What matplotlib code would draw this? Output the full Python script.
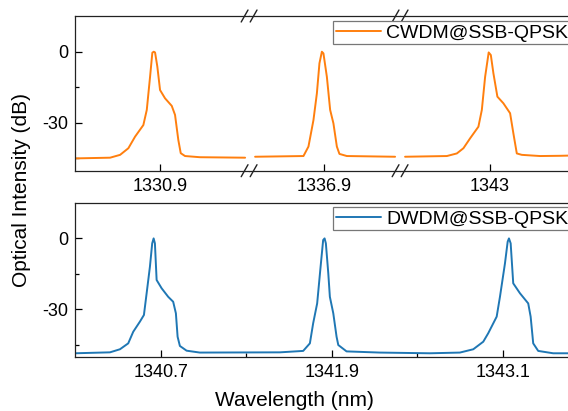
import matplotlib
matplotlib.use("Agg")
import matplotlib.pyplot as plt
from matplotlib.lines import Line2D
from matplotlib.ticker import FixedLocator

plt.rcParams['font.family'] = ['Liberation Sans', 'DejaVu Sans']
plt.rcParams['lines.solid_joinstyle'] = 'round'
plt.rcParams['lines.solid_capstyle'] = 'round'

# --- data ---
# CWDM channels, upper panel (three broken segments)
cwdm_ticks = [1330.9, 1336.9, 1343]
cwdm_tick_labels = ["1330.9", "1336.9", "1343"]
cwdm_lims = [(1330.304, 1331.524), (1336.372, 1337.430), (1342.369, 1343.70)]

cwdm1_wl = [1330.304, 1330.550, 1330.620, 1330.678, 1330.725, 1330.783, 1330.807,
            1330.830, 1330.846, 1330.856, 1330.865, 1330.881, 1330.900, 1330.935,
            1330.982, 1331.005, 1331.028, 1331.045, 1331.075, 1331.180, 1331.496]
cwdm1_db = [-45.1, -44.8, -43.6, -40.8, -35.9, -31.0, -24.6,
            -10.6, -0.4, 0.0, -0.3, -6.3, -16.2, -19.7,
            -22.9, -26.7, -37.3, -42.9, -44.1, -44.6, -44.8]

cwdm2_wl = [1336.414, 1336.753, 1336.788, 1336.823, 1336.847, 1336.865, 1336.882,
            1336.893, 1336.917, 1336.940, 1336.963, 1336.987, 1337.005, 1337.057,
            1337.395]
cwdm2_db = [-44.4, -44.1, -40.1, -28.9, -17.6, -4.9, 0.0,
            -0.7, -10.6, -24.6, -30.3, -40.1, -43.2, -44.1,
            -44.4]

cwdm3_wl = [1342.404, 1342.697, 1342.767, 1342.813, 1342.860, 1342.918, 1342.942,
            1342.965, 1342.990, 1343.005, 1343.023, 1343.051, 1343.093, 1343.140,
            1343.163, 1343.187, 1343.222, 1343.350, 1343.491, 1343.630]
cwdm3_db = [-44.4, -44.1, -43.0, -40.8, -36.6, -31.7, -24.6,
            -10.6, -0.3, -1.4, -9.1, -19.0, -21.8, -26.0,
            -34.5, -43.0, -43.6, -44.1, -44.0, -43.8]

# DWDM channels, lower panel
dwdm_ticks = [1340.7, 1341.9, 1343.1]
dwdm_minor = [1341.3, 1342.5]
dwdm_lim = (1340.1, 1343.7)

dwdm_wl = [1340.099, 1340.345, 1340.415, 1340.473, 1340.508, 1340.555, 1340.583,
           1340.602, 1340.625, 1340.641, 1340.651, 1340.660, 1340.672, 1340.707,
           1340.753, 1340.788, 1340.807, 1340.819, 1340.835, 1340.882, 1340.975,
           1341.536, 1341.699, 1341.746, 1341.769, 1341.797, 1341.821, 1341.839,
           1341.849, 1341.858, 1341.875, 1341.886, 1341.910, 1341.933, 1341.945,
           1342.003, 1342.237, 1342.587, 1342.797, 1342.891, 1342.961, 1342.996,
           1343.055, 1343.078, 1343.113, 1343.132, 1343.141, 1343.153, 1343.171,
           1343.218, 1343.276, 1343.293, 1343.311, 1343.346, 1343.451, 1343.700]
dwdm_db = [-48.6, -48.2, -46.9, -44.4, -39.5, -35.2, -32.4,
           -23.2, -12.0, -2.1, 0.0, -2.1, -17.6, -21.1,
           -24.7, -26.8, -31.7, -41.6, -45.5, -47.5, -48.3,
           -48.2, -47.6, -44.4, -35.9, -27.5, -12.0, -0.7,
           0.0, -2.1, -14.8, -24.7, -31.7, -41.6, -45.1,
           -47.8, -48.3, -48.6, -48.3, -46.9, -43.7, -40.1,
           -33.1, -24.7, -10.6, -1.4, 0.0, -2.1, -19.0,
           -23.2, -27.5, -33.1, -44.4, -47.6, -48.6, -48.6]

ylim = (-50.3, 15.1)
orange = "#FF7F0E"
blue = "#1F77B4"

# --- layout helpers (pixel -> figure fraction) ---
W, H = 568, 411
fig = plt.figure(figsize=(W / 100, H / 100), dpi=100)
px_per_nm = 142.7
left_px = 75


def fx(px):
    return px / W


def fy(py):
    return 1 - py / H


def style(ax):
    ax.set_ylim(*ylim)
    ax.tick_params(direction='in', length=4.8, width=0.9, labelsize=13, pad=5,
                   top=False, right=False)
    ax.tick_params(which='minor', direction='in', length=3.2, width=0.9)
    for s in ax.spines.values():
        s.set_linewidth(0.9)
        s.set_color("#222222")


# --- upper panel: broken axis ---
top_py, bot_py = 16, 170.7
x0 = left_px
segs = []
for i, (lo, hi) in enumerate(cwdm_lims):
    w = (hi - lo) * px_per_nm
    ax = fig.add_axes([fx(x0), fy(bot_py), w / W, (bot_py - top_py) / H])
    ax.set_xlim(lo, hi)
    style(ax)
    ax.set_xticks([cwdm_ticks[i]])
    ax.set_xticklabels([cwdm_tick_labels[i]])
    if i == 0:
        ax.set_yticks([0, -30])
        ax.set_yticklabels(["0", "-30"])
        ax.yaxis.set_minor_locator(FixedLocator([-15, -45]))
        ax.spines['right'].set_visible(False)
    else:
        ax.tick_params(left=False, labelleft=False, which='both')
        ax.spines['left'].set_visible(False)
        ax.spines['right'].set_visible(False)
    segs.append((ax, x0))
    x0 += w

segs[0][0].plot(cwdm1_wl, cwdm1_db, color=orange, lw=1.4)
segs[1][0].plot(cwdm2_wl, cwdm2_db, color=orange, lw=1.4)
l_cwdm, = segs[2][0].plot(cwdm3_wl, cwdm3_db, color=orange, lw=1.4,
                          label="CWDM@SSB-QPSK")

# break marks "//"
for _, bx in segs[1:]:
    for py in (top_py, bot_py):
        for off in (-4.5, 4.5):
            cx = bx + off
            fig.add_artist(Line2D([fx(cx - 3.4), fx(cx + 3.4)],
                                  [fy(py + 6), fy(py - 6)],
                                  transform=fig.transFigure, color="#222222", lw=1.0))

# --- lower panel ---
top2, bot2 = 202.7, 357.3
w2 = (dwdm_lim[1] - dwdm_lim[0]) * px_per_nm
ax2 = fig.add_axes([fx(left_px), fy(bot2), w2 / W, (bot2 - top2) / H])
ax2.set_xlim(*dwdm_lim)
style(ax2)
l_dwdm, = ax2.plot(dwdm_wl, dwdm_db, color=blue, lw=1.4, label="DWDM@SSB-QPSK")
ax2.set_xticks(dwdm_ticks)
ax2.set_xticklabels([f"{t:.1f}" for t in dwdm_ticks])
ax2.xaxis.set_minor_locator(FixedLocator(dwdm_minor))
ax2.set_yticks([0, -30])
ax2.set_yticklabels(["0", "-30"])
ax2.yaxis.set_minor_locator(FixedLocator([-15, -45]))

# legends
for handle, py in ((l_cwdm, 21), (l_dwdm, 207)):
    leg = fig.legend(handles=[handle], loc='upper left',
                     bbox_to_anchor=(fx(333), fy(py)), bbox_transform=fig.transFigure,
                     fontsize=14, fancybox=False, framealpha=1, edgecolor="#777777",
                     borderpad=0.15, borderaxespad=0, handlelength=2.3,
                     handletextpad=0.3)
    leg.get_frame().set_linewidth(0.9)

fig.text(fx(294), fy(400), "Wavelength (nm)", fontsize=15, ha='center', va='center')
fig.text(fx(22), fy(190), "Optical Intensity (dB)", fontsize=15, rotation=90,
         ha='center', va='center')

fig.savefig("out.png", dpi=100)
